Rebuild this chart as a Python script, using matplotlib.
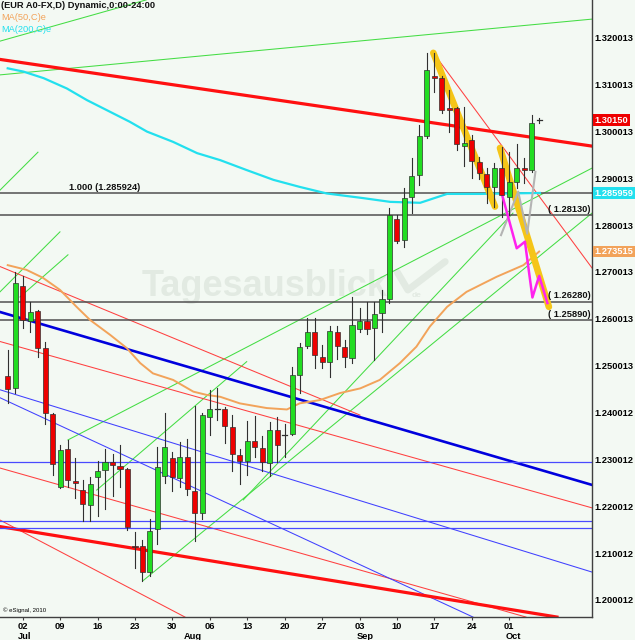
import matplotlib
matplotlib.use("Agg")
import matplotlib.pyplot as plt
import pandas as pd
from matplotlib.transforms import offset_copy, blended_transform_factory

plt.rcParams['font.family'] = ['Liberation Sans', 'DejaVu Sans']

# daily bars, 28 Jun - 05 Oct (trading days)
dates = pd.bdate_range("2012-06-28", "2012-10-05")

opens = [1.2469, 1.2443, 1.2662, 1.2587, 1.2608, 1.2529, 1.2388,
         1.2233, 1.2313, 1.2246, 1.2226, 1.2194,
         1.2253, 1.2269, 1.2286, 1.2277, 1.2272,
         1.2107, 1.2107, 1.2052, 1.2142, 1.2256,
         1.2294, 1.2252, 1.2297, 1.2225, 1.2176,
         1.2381, 1.2397, 1.2398, 1.2361, 1.2300,
         1.2287, 1.2330, 1.2316, 1.2283, 1.2354,
         1.2343, 1.2345, 1.2472, 1.2533, 1.2564,
         1.2509, 1.2500, 1.2564, 1.2532, 1.2508,
         1.2569, 1.2587, 1.2571, 1.2603, 1.2633,
         1.2804, 1.2760, 1.2851, 1.2898, 1.2982,
         1.3110, 1.3105, 1.3041, 1.3041, 1.2960,
         1.2973, 1.2927, 1.2901, 1.2873, 1.2913,
         1.2852, 1.2884, 1.2914, 1.2909, 1.3015]
highs = [1.2525, 1.2692, 1.2683, 1.2628, 1.2610, 1.2541, 1.2390,
         1.2322, 1.2333, 1.2294, 1.2247, 1.2253,
         1.2289, 1.2314, 1.2303, 1.2322, 1.2273,
         1.2137, 1.2119, 1.2164, 1.2318, 1.2390,
         1.2308, 1.2329, 1.2334, 1.2405, 1.2390,
         1.2440, 1.2444, 1.2404, 1.2386, 1.2314,
         1.2374, 1.2384, 1.2341, 1.2372, 1.2381,
         1.2368, 1.2489, 1.2539, 1.2593, 1.2593,
         1.2535, 1.2576, 1.2576, 1.2546, 1.2639,
         1.2614, 1.2628, 1.2628, 1.2653, 1.2827,
         1.2813, 1.2870, 1.2934, 1.3005, 1.3159,
         1.3159, 1.3110, 1.3080, 1.3044, 1.3044,
         1.2984, 1.2937, 1.2913, 1.2923, 1.2959,
         1.2948, 1.2964, 1.2934, 1.3026, 1.3020]
lows = [1.2411, 1.2434, 1.2571, 1.2564, 1.2511, 1.2367, 1.2258,
        1.2231, 1.2232, 1.2208, 1.2161, 1.2159,
        1.2171, 1.2186, 1.2214, 1.2233, 1.2141,
        1.2059, 1.2032, 1.2042, 1.2111, 1.2240,
        1.2223, 1.2232, 1.2215, 1.2117, 1.2164,
        1.2344, 1.2376, 1.2327, 1.2266, 1.2239,
        1.2259, 1.2297, 1.2266, 1.2255, 1.2286,
        1.2296, 1.2344, 1.2434, 1.2530, 1.2486,
        1.2486, 1.2468, 1.2505, 1.2489, 1.2497,
        1.2564, 1.2559, 1.2504, 1.2564, 1.2625,
        1.2753, 1.2745, 1.2818, 1.2877, 1.2977,
        1.3076, 1.3030, 1.2991, 1.2952, 1.2918,
        1.2891, 1.2890, 1.2838, 1.2831, 1.2808,
        1.2813, 1.2870, 1.2881, 1.2905, 1.3010]
closes = [1.2441, 1.2667, 1.2589, 1.2607, 1.2529, 1.2391, 1.2282,
          1.2312, 1.2247, 1.2240, 1.2196, 1.2239,
          1.2267, 1.2286, 1.2280, 1.2272, 1.2148,
          1.2104, 1.2052, 1.2139, 1.2276, 1.2318,
          1.2253, 1.2296, 1.2228, 1.2176, 1.2386,
          1.2399, 1.2398, 1.2363, 1.2303, 1.2287,
          1.2330, 1.2317, 1.2285, 1.2354, 1.2322,
          1.2343, 1.2471, 1.2532, 1.2564, 1.2514,
          1.2500, 1.2565, 1.2533, 1.2509, 1.2578,
          1.2587, 1.2569, 1.2602, 1.2633, 1.2813,
          1.2758, 1.2850, 1.2896, 1.2982, 1.3122,
          1.3105, 1.3037, 1.3037, 1.2964, 1.2967,
          1.2929, 1.2902, 1.2872, 1.2913, 1.2856,
          1.2884, 1.2913, 1.2909, 1.3009, 1.3015]

# moving averages (bar index, value)
ma50_x = [0, 2.5, 4.7, 7, 9.2, 11, 13.7, 15.9, 17.7, 19.4, 22.1, 24.8, 26.6, 28.4, 31,
          34.6, 37.3, 39, 41.7, 44.4, 47.1, 49.7, 52.4, 54.6, 56.4, 58.7, 61.3, 65.3, 68.9, 71]
ma50_y = [1.2706, 1.2696, 1.2679, 1.2653, 1.2617, 1.2589, 1.2557, 1.2529, 1.2497, 1.2475,
          1.2461, 1.2436, 1.2429, 1.2425, 1.2411, 1.2401, 1.2398, 1.2411, 1.2418, 1.2433,
          1.2443, 1.2461, 1.2497, 1.2532, 1.2575, 1.2617, 1.2649, 1.2681, 1.2706, 1.2735]
ma200_x = [0, 2.1, 4.8, 7.9, 10.6, 13.7, 16.3, 18.6, 22.1, 25.3, 28.4, 31.9, 35.5, 39,
           42.6, 47.5, 51.1, 55.1, 58.7, 63.1, 71.1]
ma200_y = [1.3126, 1.3119, 1.3105, 1.3083, 1.3058, 1.3033, 1.3012, 1.2991, 1.2969, 1.2945,
           1.2930, 1.2909, 1.2888, 1.2873, 1.2859, 1.2849, 1.2841, 1.2839, 1.2858, 1.2858,
           1.2860]

# trend lines (x0, y0, x1, y1) in bar index / price
green_lines = [(-1.03, 1.3184, 18.5, 1.3272), (-1.03, 1.3112, 78.06, 1.3231),
               (-1.03, 1.2866, 4.04, 1.2947), (-1.03, 1.2649, 6.98, 1.2777),
               (1.64, 1.2638, 8.05, 1.2728), (8.05, 1.2333, 78.06, 1.2913),
               (18.03, 1.2032, 78.06, 1.2817), (31.47, 1.2205, 67.5, 1.2817),
               (11.89, 1.2226, 31.93, 1.2500)]
red_thick = [(-1.03, 1.3145, 78.06, 1.2960), (-1.03, 1.2148, 73.38, 1.1955)]
red_thin = [(-1.03, 1.2703, 47.06, 1.2386), (-1.03, 1.2543, 78.06, 1.2188),
            (-1.03, 1.2273, 69.24, 1.1955), (-1.03, 1.2162, 23.68, 1.1955),
            (56.86, 1.3159, 78.06, 1.2700)]
blue_thick = [(-1.03, 1.2606, 78.06, 1.2237)]
blue_thin = [(-1.03, 1.2440, 78.06, 1.2051), (-1.03, 1.2423, 62.16, 1.1955)]
blue_levels = [1.2285, 1.2161, 1.2145]
gray_levels = [1.285924, 1.2813, 1.2628, 1.2589]
level_texts = ["", "( 1.28130)", "( 1.26280)", "( 1.25890)"]

# projection paths
yellow_x1, yellow_y1 = [56.86, 65.1], [1.3159, 1.2831]
yellow_x2, yellow_y2 = [65.77, 72.3], [1.2956, 1.2617]
magenta_x = [66.0, 68.0, 69.1, 70.1, 71.0, 72.1]
magenta_y = [1.2859, 1.2742, 1.2756, 1.2637, 1.2683, 1.2625]
gray_x = [65.9, 68.2, 69.4, 70.5]
gray_y = [1.2770, 1.2863, 1.2773, 1.2905]

price_ticks = [1.200012, 1.210012, 1.220012, 1.230012, 1.240012, 1.250013, 1.260013,
               1.270013, 1.280013, 1.290013, 1.300013, 1.310013, 1.320013]

BG = '#f3f9f3'
GREEN = '#44dd44'
fs = 6.7

fig = plt.figure(figsize=(6.35, 6.4), dpi=100)
fig.patch.set_facecolor(BG)
ax = fig.add_axes([0, 23 / 640, 592 / 635, 617 / 640])
ax.set_facecolor(BG)
ax.set_xlim(-1.03, 78.06)
ax.set_ylim(1.19551, 1.32718)
for s in ('top', 'left'):
    ax.spines[s].set_visible(False)
for s in ('right', 'bottom'):
    ax.spines[s].set_color('#404040')
    ax.spines[s].set_linewidth(1)

# watermark
WM = '#e2eae2'
ax.text(0.239, 0.52, 'Tagesausblick', transform=ax.transAxes, fontsize=26,
        fontweight='bold', color=WM, va='baseline', zorder=0)
ax.plot([0.671, 0.689, 0.752], [0.559, 0.530, 0.576], transform=ax.transAxes,
        color=WM, lw=5, solid_capstyle='round', zorder=0)
ax.text(0.696, 0.519, 'de', transform=ax.transAxes, fontsize=6, color=WM,
        fontweight='bold', zorder=0)

def seg(lines, color, lw, z=1):
    for x0, y0, x1, y1 in lines:
        ax.plot([x0, x1], [y0, y1], color=color, lw=lw, zorder=z)

seg(green_lines, GREEN, 0.75)
seg(red_thin, '#ff4040', 0.75)
seg(blue_thin, '#4040ff', 0.75)
seg(blue_thick, '#0000dd', 1.9)
seg(red_thick, '#ff1010', 2.3)
for lv in blue_levels:
    ax.axhline(lv, color='#4a4aff', lw=0.9, zorder=1)

for lv, t in zip(gray_levels, level_texts):
    ax.axhline(lv, color='#505050', lw=1.1, zorder=2)
    if t:
        ax.text(0.998, lv + 0.0003, t, transform=ax.get_yaxis_transform(), ha='right',
                va='bottom', fontsize=fs, fontweight='bold', color='#111111', zorder=6)
ax.text(8.2, gray_levels[0] + 0.0003, '1.000 (1.285924)', fontsize=fs,
        fontweight='bold', color='#111111', va='bottom', zorder=6)

ax.plot(ma50_x, ma50_y, color='#f2a35a', lw=1.4, zorder=2)
ax.plot(ma200_x, ma200_y, color='#22e0ee', lw=1.6, zorder=2)

# candles
n = len(dates)
for i in range(n):
    o, h, l, c = opens[i], highs[i], lows[i], closes[i]
    ax.plot([i, i], [l, h], color='#303030', lw=0.8, zorder=4)
    lo, hi = min(o, c), max(o, c)
    col = '#22dd22' if c > o else '#ee0000'
    if hi - lo < 0.0002:
        ax.plot([i - 0.33, i + 0.33], [c, c], color='#303030', lw=0.9, zorder=5)
    else:
        ax.bar(i, hi - lo, bottom=lo, width=0.68, color=col, edgecolor='#303030',
               linewidth=0.5, zorder=5)

ax.plot(yellow_x1, yellow_y1, color='#f5c518', lw=4.8, solid_capstyle='round', zorder=3)
ax.plot(yellow_x2, yellow_y2, color='#f5c518', lw=4.8, solid_capstyle='round', zorder=3)
ax.plot(gray_x, gray_y, color='#b4b4b4', lw=1.5, zorder=3)
ax.plot(magenta_x, magenta_y, color='#ff22ee', lw=1.8, zorder=4)

# right price scale
ax.set_yticks([])
lab_tr = offset_copy(ax.get_yaxis_transform(), fig=fig, x=0, y=-5, units='dots')
for v in price_ticks:
    ax.text(1.004, v, f'{v:.6f}', transform=lab_tr, fontsize=fs, fontweight='bold',
            va='center', ha='left', clip_on=False, zorder=3)
for v, txt, fc in [(1.3015, '1.30150', '#ee0000'), (1.285959, '1.285959', '#22e0ee'),
                   (1.273515, '1.273515', '#f2a35a')]:
    ax.text(1.004, v, txt, transform=ax.get_yaxis_transform(), fontsize=fs,
            fontweight='bold', color='white', va='center', ha='left', clip_on=False,
            bbox=dict(boxstyle='square,pad=0.15', fc=fc, ec='none'), zorder=7)

# date axis
mondays = [i for i, d in enumerate(dates) if d.weekday() == 0]
ax.set_xticks(mondays)
ax.set_xticklabels([dates[i].strftime('%d') for i in mondays], fontweight='bold')
ax.tick_params(axis='x', length=2.5, width=0.8, color='#404040', pad=0.8, labelsize=fs)
trans = blended_transform_factory(ax.transData, ax.transAxes)
for pos, name in [(2.2, 'Jul'), (24.7, 'Aug'), (47.7, 'Sep'), (67.6, 'Oct')]:
    ax.text(pos, -0.031, name, transform=trans, fontsize=fs, fontweight='bold',
            ha='center', va='center', clip_on=False)

ax.text(0.005, 0.011, '\u00a9 eSignal, 2010', transform=ax.transAxes, fontsize=4.3,
        va='center')
fig.text(1 / 635, 1 - 6 / 640, '(EUR A0-FX,D) Dynamic,0:00-24:00', fontsize=fs,
         fontweight='bold', va='center', color='#111111')
fig.text(1 / 635, 1 - 18 / 640, 'MA(50,C)e', fontsize=fs, color='#f2a35a', va='center')
fig.text(1 / 635, 1 - 30 / 640, 'MA(200,C)e', fontsize=fs, color='#22e0ee', va='center')

fig.savefig('out.png', dpi=100, facecolor=BG)
